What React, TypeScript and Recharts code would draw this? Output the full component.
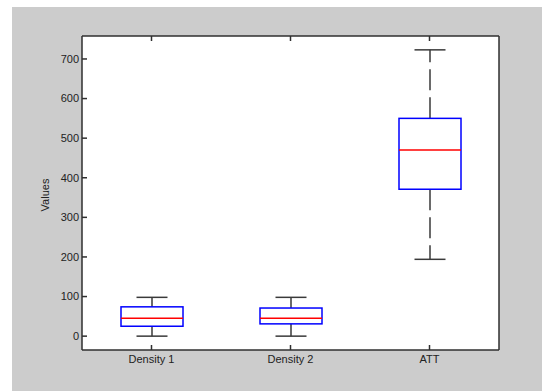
import React from "react";
import { ComposedChart, Bar, XAxis, YAxis, CartesianGrid } from "recharts";

const categories = ["Density 1", "Density 2", "ATT"];
const lowerWhisker = [0, 0, 194];
const firstQuartile = [25, 31, 371];
const medians = [45, 45, 470];
const thirdQuartile = [74, 71, 550];
const upperWhisker = [98, 98, 723];
const yTicks = [0, 100, 200, 300, 400, 500, 600, 700];

const rows = categories.map((name, i) => ({
  name,
  lo: lowerWhisker[i],
  q1: firstQuartile[i],
  med: medians[i],
  q3: thirdQuartile[i],
  hi: upperWhisker[i],
}));

const FONT = "'Liberation Sans', Arial, sans-serif";
const FRAME = "#2f2f2f";
const WHISKER = "#3a3a3a";

// The bar spans lo..hi; quartiles and median are placed on the same linear scale.
const BoxShape = (props: any) => {
  const { x, y, width, height, payload } = props;
  const top = Math.min(y, y + height);
  const span = Math.abs(height);
  const yOf = (v: number) =>
    top + (span * (payload.hi - v)) / (payload.hi - payload.lo);
  const cx = x + width / 2;
  const cap = width / 4;
  const yHi = yOf(payload.hi);
  const yLo = yOf(payload.lo);
  const yQ3 = yOf(payload.q3);
  const yQ1 = yOf(payload.q1);
  const yMed = yOf(payload.med);
  return (
    <g>
      <line x1={cx} y1={yQ3} x2={cx} y2={yHi} stroke={WHISKER} strokeWidth={1.5} strokeDasharray="21 7" />
      <line x1={cx} y1={yQ1} x2={cx} y2={yLo} stroke={WHISKER} strokeWidth={1.5} strokeDasharray="21 7" />
      <line x1={cx - cap} y1={yHi} x2={cx + cap} y2={yHi} stroke={WHISKER} strokeWidth={1.5} />
      <line x1={cx - cap} y1={yLo} x2={cx + cap} y2={yLo} stroke={WHISKER} strokeWidth={1.5} />
      <rect x={x} y={yQ3} width={width} height={yQ1 - yQ3} fill="none" stroke="#0000ff" strokeWidth={1.5} />
      <line x1={x} y1={yMed} x2={x + width} y2={yMed} stroke="#ff0000" strokeWidth={1.5} />
    </g>
  );
};

const noLabel = () => <g />;

const tickStyle = { fill: "#222", fontSize: 11, fontFamily: FONT };

export default function App() {
  return (
    <div style={{ position: "absolute", left: 0, top: 0, width: 542, height: 391, background: "#fff" }}>
      <div style={{ position: "absolute", left: 12, top: 7, width: 530, height: 384, background: "#cccccc" }}>
        <ComposedChart
          width={530}
          height={384}
          data={rows}
          margin={{ top: 24, right: 38, bottom: 11, left: 30 }}
        >
          <CartesianGrid horizontal={false} vertical={false} fill="#ffffff" stroke="none" />
          <XAxis
            dataKey="name"
            height={30}
            tickSize={-5}
            tickMargin={10}
            tick={tickStyle}
            axisLine={{ stroke: FRAME, strokeWidth: 1.5 }}
            tickLine={{ stroke: FRAME, strokeWidth: 1.5 }}
          />
          <XAxis
            xAxisId="top"
            dataKey="name"
            orientation="top"
            height={5}
            tickSize={-5}
            tick={noLabel}
            axisLine={{ stroke: FRAME, strokeWidth: 1.5 }}
            tickLine={{ stroke: FRAME, strokeWidth: 1.5 }}
          />
          <YAxis
            type="number"
            domain={[-35, 758]}
            ticks={yTicks}
            width={40}
            tickSize={-5}
            tickMargin={8}
            tick={tickStyle}
            axisLine={{ stroke: FRAME, strokeWidth: 1.5 }}
            tickLine={{ stroke: FRAME, strokeWidth: 1.5 }}
            label={{
              content: ({ viewBox }: any) => {
                const lx = viewBox.x + 3;
                const ly = viewBox.y + viewBox.height / 2 + 2;
                return (
                  <text
                    x={lx}
                    y={ly}
                    transform={`rotate(-90 ${lx} ${ly})`}
                    textAnchor="middle"
                    dominantBaseline="central"
                    fontSize={11}
                    fontFamily={FONT}
                    fill="#222"
                  >
                    Values
                  </text>
                );
              },
            }}
          />
          <YAxis
            yAxisId="right"
            orientation="right"
            type="number"
            domain={[-35, 758]}
            ticks={yTicks}
            width={5}
            tickSize={-5}
            tick={noLabel}
            axisLine={{ stroke: FRAME, strokeWidth: 1.5 }}
            tickLine={{ stroke: FRAME, strokeWidth: 1.5 }}
          />
          <Bar
            dataKey={(d: any) => [d.lo, d.hi]}
            barSize={62}
            fill="none"
            shape={BoxShape}
            isAnimationActive={false}
          />
        </ComposedChart>
      </div>
    </div>
  );
}
